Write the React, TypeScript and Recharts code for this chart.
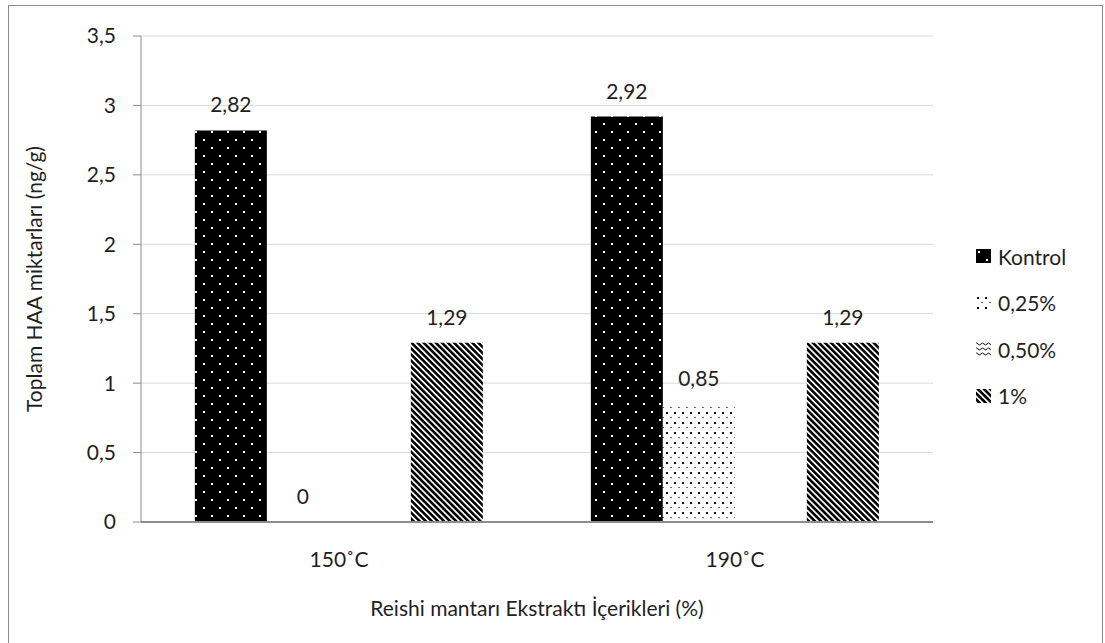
import React from 'react';
import { BarChart, Bar, XAxis, YAxis, CartesianGrid, LabelList, Legend, Rectangle } from 'recharts';

// Total HAA content by cooking temperature and Reishi extract ratio
const categories = ['150˚C', '190˚C'];
const kontrolValues = [2.82, 2.92];
const p025Values = [0, 0.85];
const p050Values: (number | null)[] = [null, null];
const p1Values = [1.29, 1.29];
const yTicks = [0, 0.5, 1, 1.5, 2, 2.5, 3, 3.5];

const seriesNames = ['Kontrol', '0,25%', '0,50%', '1%'];
const seriesKeys = ['kontrol', 'p025', 'p050', 'p1'];
const patternIds = ['patKontrol', 'pat025', 'pat050', 'pat1'];

const data = categories.map((name, i) => ({
  name,
  kontrol: kontrolValues[i],
  p025: p025Values[i],
  p050: p050Values[i],
  p1: p1Values[i],
}));

const FONT = 'Lato, "Noto Sans", sans-serif';
const FS = 21;
const TEXT = '#1f1f1f';
const AXIS = '#8c8c8c';

const fmt = (v: any) => (v === null || v === undefined ? '' : String(v).replace('.', ','));

const PatternDefs = ({ prefix = '' }: { prefix?: string }) => (
  <defs>
    <pattern id={prefix + 'patKontrol'} width="16" height="16" patternUnits="userSpaceOnUse">
      <rect width="16" height="16" fill="#000" />
      <rect x="3" y="3" width="2" height="2" fill="#fff" />
      <rect x="11" y="11" width="2" height="2" fill="#fff" />
    </pattern>
    <pattern id={prefix + 'pat025'} width="8" height="10" patternUnits="userSpaceOnUse">
      <rect width="8" height="10" fill="#fff" />
      <rect x="2" y="2" width="2" height="2" fill="#111" />
      <rect x="6" y="7" width="2" height="1" fill="#666" />
    </pattern>
    <pattern id={prefix + 'pat050'} width="6" height="5" patternUnits="userSpaceOnUse">
      <rect width="6" height="5" fill="#fff" />
      <path d="M0 3 Q1.5 1 3 3 T6 3" stroke="#111" strokeWidth="1" fill="none" />
    </pattern>
    <pattern id={prefix + 'pat1'} width="4.3" height="4.3" patternUnits="userSpaceOnUse" patternTransform="rotate(-45)">
      <rect width="4.3" height="4.3" fill="#fff" />
      <rect x="0" y="0" width="2.6" height="4.3" fill="#000" />
    </pattern>
  </defs>
);

const LegendContent = () => (
  <div style={{ fontFamily: FONT, fontSize: FS, color: TEXT }}>
    <svg width="0" height="0" style={{ position: 'absolute' }}>
      <PatternDefs prefix="lg-" />
    </svg>
    {seriesNames.map((n, i) => (
      <div key={n} style={{ display: 'flex', alignItems: 'center', height: 46.5 }}>
        <svg width="17" height="16" style={{ marginRight: 6 }}>
          <rect x="1" y="1" width="15" height="14" fill={`url(#lg-${patternIds[i]})`} />
        </svg>
        <span>{n}</span>
      </div>
    ))}
  </div>
);

const YTitle = (props: any) => {
  const vb = props.viewBox || {};
  const cx = 33;
  const cy = vb.y + vb.height / 2;
  return (
    <text x={cx} y={cy} transform={`rotate(-90 ${cx} ${cy})`} textAnchor="middle" dominantBaseline="central"
      fontFamily={FONT} fontSize={FS} fill={TEXT}>
      Toplam HAA miktarları (ng/g)
    </text>
  );
};

const XTitle = (props: any) => {
  const vb = props.viewBox || {};
  const cx = vb.x + vb.width / 2;
  return (
    <text x={cx} y={607} textAnchor="middle" dominantBaseline="central" fontFamily={FONT} fontSize={FS} fill={TEXT}>
      Reishi mantarı Ekstraktı İçerikleri (%)
    </text>
  );
};

// Value label drawn above each bar, including bars whose value is zero
const ValueLabel = (props: any) => {
  const { x, y, width, height, value } = props;
  if (value === null || value === undefined || x === undefined || y === undefined) return null;
  // zero-valued bars get a 1px placeholder height; anchor their label on the baseline
  const top = value === 0 ? Number(y) + Number(height) : Number(y);
  return (
    <text x={Number(x) + Number(width) / 2} y={top - 18} textAnchor="middle"
      fontFamily={FONT} fontSize={FS} fill={TEXT}>
      {fmt(value)}
    </text>
  );
};

// Zero values keep their slot (for the label) but draw no visible bar
const zeroMin = (v: any) => (v === 0 ? 1 : 0);
const makeShape = (key: string) => (props: any) => {
  const v = props.payload ? props.payload[key] : props.value;
  if (v === 0 || v === null || v === undefined) return <g />;
  return <Rectangle {...props} />;
};

export default function App() {
  return (
    <div style={{ position: 'absolute', left: 0, top: 0, width: 1105, height: 643, background: '#fff', overflow: 'hidden' }}>
      <div style={{ position: 'absolute', left: 8, top: 5, width: 1095, height: 660, border: '1.5px solid #8c8c8c', boxSizing: 'border-box' }} />
      <div style={{ position: 'absolute', left: 0, top: 0 }}>
        <BarChart width={1105} height={643} data={data}
          margin={{ top: 36, right: 172, bottom: 51, left: 8 }}
          barCategoryGap="13.6%" barGap={0}>
          <PatternDefs />
          <CartesianGrid vertical={false} stroke="#d9d9d9" strokeWidth={1} />
          <XAxis dataKey="name" height={70} tickLine={false} axisLine={{ stroke: AXIS, strokeWidth: 2 }}
            tick={{ fontFamily: FONT, fontSize: FS, fill: TEXT }} tickMargin={24}
            label={<XTitle />} />
          <YAxis width={133} domain={[0, 3.5]} ticks={yTicks} tickFormatter={fmt} interval={0}
            axisLine={{ stroke: AXIS, strokeWidth: 1 }} tickLine={{ stroke: AXIS }} tickSize={8} tickMargin={17}
            tick={{ fontFamily: FONT, fontSize: FS, fill: TEXT }}
            label={<YTitle />} />
          <Legend content={<LegendContent />} layout="vertical" align="center" verticalAlign="middle"
            wrapperStyle={{ position: 'absolute', left: 975, top: 233, width: 125 }} />
          {seriesKeys.map((k, i) => (
            <Bar key={k} dataKey={k} name={seriesNames[i]} fill={`url(#${patternIds[i]})`} isAnimationActive={false}
              minPointSize={zeroMin} shape={makeShape(k)}>
              <LabelList dataKey={k} content={<ValueLabel />} />
            </Bar>
          ))}
        </BarChart>
      </div>
    </div>
  );
}
